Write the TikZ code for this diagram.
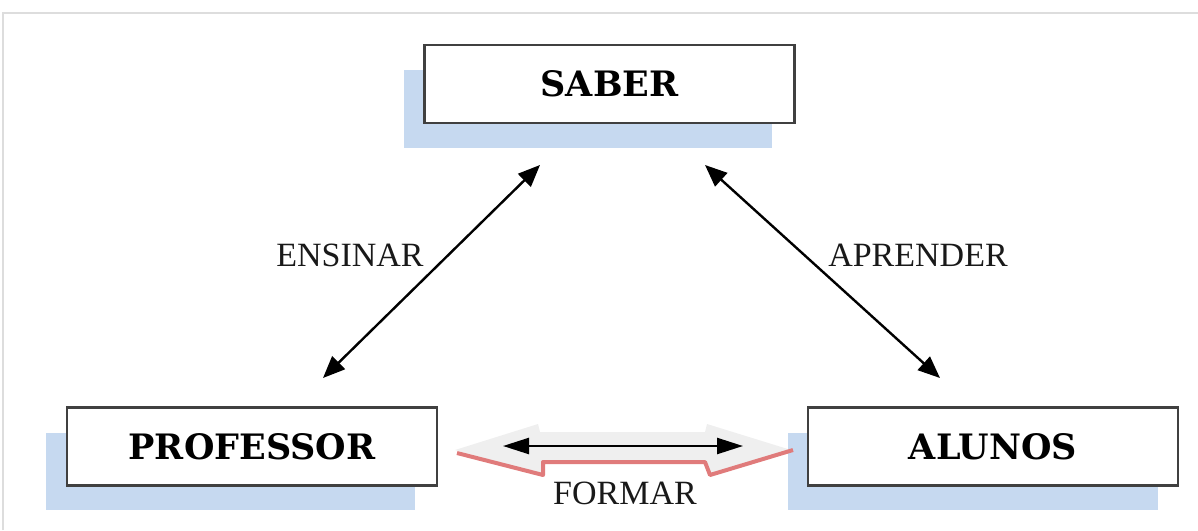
\documentclass[tikz,border=0pt]{standalone}
\usepackage{fontspec}
\setmainfont{Liberation Serif}
\newfontfamily\boxfont{DejaVu Serif}
\usetikzlibrary{arrows.meta}
\definecolor{shadowblue}{HTML}{C6D9F0}
\definecolor{framegray}{HTML}{DDDDDD}
\definecolor{blockgray}{HTML}{EFEFEF}
\definecolor{blockpink}{HTML}{E07B7B}
\definecolor{boxborder}{HTML}{404040}
\tikzset{
  concept/.style={draw=boxborder, line width=2.4pt, fill=white, minimum width=370pt, minimum height=78pt, inner sep=0pt,
    font=\boxfont\bfseries\fontsize{35}{40}\selectfont, text=black},
  shadowbox/.style={fill=shadowblue, draw=none},
  relation/.style={line width=2.4pt, {Triangle[length=22pt,width=18pt]}-{Triangle[length=22pt,width=18pt]}},
  label/.style={font=\fontsize{34}{38}\selectfont, text=black!90, inner sep=0pt}
}
\begin{document}
\begin{tikzpicture}[x=1pt,y=-1pt]
\useasboundingbox (0,0) rectangle (1198,530);
% frame
\draw[framegray, line width=2pt] (3,530) -- (3,13) -- (1198,13);
% shadows
\fill[shadowblue] (404,70) rectangle (772,148);
\fill[shadowblue] (46,433) rectangle (415,510);
\fill[shadowblue] (788,433) rectangle (1158,510);
% boxes
\node[concept] (saber) at (609.5,84) {SABER};
\node[concept] (professor) at (252,446.5) {PROFESSOR};
\node[concept] (alunos) at (993,446.5) {ALUNOS};
% block arrow
\fill[blockgray] (455,450) -- (538,424) -- (540,432) -- (705,432) -- (707,424) -- (791,450)
  -- (710,475) -- (705,462) -- (543,462) -- (543,475) -- cycle;
\draw[blockpink, line width=4pt, line join=round] (457,453) -- (543,475) -- (543,462) -- (705,462) -- (710,475) -- (793,450);
% arrow end points
\coordinate (ensA) at (323,378);
\coordinate (ensB) at (540,165);
\coordinate (aprA) at (705,165);
\coordinate (aprB) at (940,378);
\coordinate (forA) at (503,446);
\coordinate (forB) at (743,446);
\draw[relation] (ensA) -- (ensB);
\draw[relation] (aprA) -- (aprB);
\draw[relation, {Triangle[length=26pt,width=16pt]}-{Triangle[length=26pt,width=16pt]}] (forA) -- (forB);
% labels
\node[label] (ensinar) at (350,255) {ENSINAR};
\node[label] (aprender) at (918,255) {APRENDER};
\node[label] (formar) at (625,493) {FORMAR};
\end{tikzpicture}
\end{document}
